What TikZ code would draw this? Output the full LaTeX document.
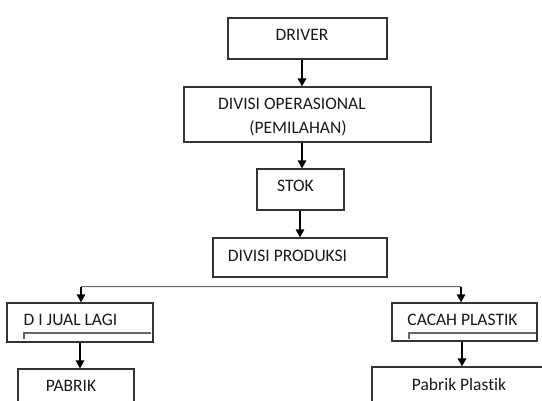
\documentclass[tikz,border=0pt]{standalone}
\usepackage{fontspec}
\setmainfont{Carlito}[Ligatures=NoCommon]
\usetikzlibrary{arrows.meta}
\definecolor{boxline}{HTML}{333333}
\definecolor{txt}{HTML}{1A1A1A}
\tikzset{
  box/.style={draw=boxline, line width=1.2pt, fill=white, inner sep=0pt},
  lbl/.style={anchor=base, inner sep=0pt, text=txt, font=\fontsize{17.5}{21}\selectfont},
  conn/.style={draw=black, line width=1.3pt, -{Triangle[length=8pt,width=8.5pt]}},
  hconn/.style={draw=gray!85!black, line width=0.6pt, double=gray!15, double distance=0.6pt},
  bracket/.style={draw=gray!80!black, line width=1.6pt},
}
\newcommand{\boxat}[5]{% name x1 y1 x2 y2
  \node[box, minimum width={(#4-#2)*1pt}, minimum height={(#5-#3)*1pt}] (#1) at ({(#2+#4)/2},{(#3+#5)/2}) {};}
\begin{document}
\begin{tikzpicture}[x=1pt,y=-1pt]
\useasboundingbox (0,0) rectangle (542,401);
\clip (0,0) rectangle (542,401);
\boxat{driver}{228}{18}{387}{59}
\boxat{divop}{184}{87}{431}{142}
\boxat{stok}{257}{169}{344}{210}
\boxat{divprod}{213}{238}{387}{277}
\boxat{jual}{7}{303}{153}{342}
\boxat{cacah}{392}{303}{537}{341}
\boxat{pabrik}{18}{369}{134}{420}
\boxat{pplastik}{372}{367}{552}{420}

\node[lbl] (tdriver) at (302,40.5) {DRIVER};
\node[lbl, anchor=base west] (tdivop1) at (218,109.5) {DIVISI OPERASIONAL};
\node[lbl] (tdivop2) at (298,133.5) {(PEMILAHAN)};
\node[lbl] (tstok) at (295.5,191.5) {STOK};
\node[lbl] (tdivprod) at (287.5,261.5) {DIVISI PRODUKSI};
\node[lbl] (tjual) at (70.5,325.5) {D I JUAL LAGI};
\node[lbl] (tcacah) at (462.5,325.5) {CACAH PLASTIK};
\node[lbl] (tpabrik) at (71,391.5) {PABRIK};
\node[lbl] (tpplastik) at (459,390.5) {Pabrik Plastik};

\draw[bracket] (24,339) -- (24,333) -- (151,333);
\draw[bracket] (409,339) -- (409,333) -- (536,333);

\draw[conn] (driver.south -| 302,0) -- (divop.north -| 302,0);
\draw[conn] (divop.south -| 302,0) -- (stok.north -| 302,0);
\draw[conn] (stok.south -| 300,0) -- (divprod.north -| 300,0);

\coordinate (hl) at (81,287);
\coordinate (hr) at (461,287);
\draw[hconn] (hl) -- (hr);
\draw[conn] (hl) -- (hl |- jual.north);
\draw[conn] (hr) -- (hr |- cacah.north);

\draw[conn] (jual.south -| 80,0) -- (pabrik.north -| 80,0);
\draw[conn] (cacah.south -| 462,0) -- (pplastik.north -| 462,0);
\end{tikzpicture}
\end{document}
